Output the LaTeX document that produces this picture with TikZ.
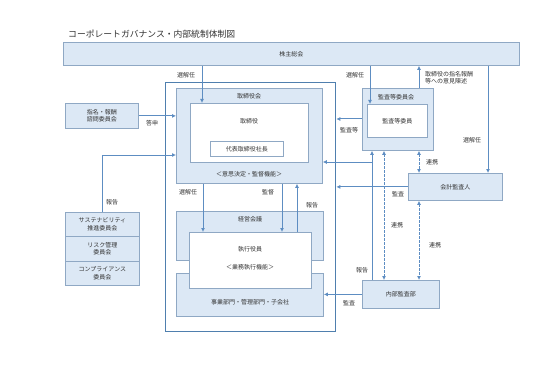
\documentclass[tikz,border=0pt]{standalone}
\usepackage{fontspec}
\setmainfont{Noto Sans CJK JP}
\usetikzlibrary{arrows.meta,calc}
\definecolor{fillb}{HTML}{DCE8F5}
\definecolor{edgeb}{HTML}{8FA8C4}
\definecolor{arrb}{HTML}{5D8DC2}
\definecolor{outerb}{HTML}{4F7FAE}
\definecolor{txt}{HTML}{333333}
\begin{document}
\begin{tikzpicture}[x=1pt,y=-1pt, font=\fontsize{6}{7.5}\selectfont, text=txt,
 bluebox/.style={draw=edgeb, fill=fillb, line width=0.8pt, inner sep=0pt, anchor=north west, align=center},
 whitebox/.style={draw=edgeb, fill=white, line width=0.8pt, inner sep=0pt, anchor=north west, align=center},
 arr/.style={draw=arrb, line width=1pt, -{Latex[length=4pt,width=4pt]}},
 dbl/.style={draw=arrb, line width=1pt, dash pattern=on 2.5pt off 1.5pt, {Latex[length=4pt,width=4pt]}-{Latex[length=4pt,width=4pt]}},
 lbl/.style={inner sep=0pt}]
\useasboundingbox[fill=white] (0,0) rectangle (537,366);
\node[lbl, anchor=west, font=\fontsize{8.8}{10}\selectfont] (title) at (68,34) {コーポレートガバナンス・内部統制体制図};
% boxes
\node[bluebox, minimum width=456pt, minimum height=23pt] (kabu) at (63,42) {株主総会};
\node[draw=outerb, line width=1.3pt, inner sep=0pt, anchor=north west, minimum width=170pt, minimum height=249pt] (outer) at (165,82) {};
\node[bluebox, minimum width=146pt, minimum height=95pt] (torikai) at (176,88) {};
\node[whitebox, minimum width=118pt, minimum height=59pt] (tori) at (190,103) {};
\node[whitebox, minimum width=73pt, minimum height=15pt] (daihyo) at (210,141) {代表取締役社長};
\node[bluebox, minimum width=73pt, minimum height=25pt] (shimei) at (65,103) {指名・報酬\\諮問委員会};
\node[bluebox, minimum width=74pt, minimum height=24pt] (sus) at (65,212) {サステナビリティ\\推進委員会};
\node[bluebox, minimum width=74pt, minimum height=25pt] (risk) at (65,236) {リスク管理\\委員会};
\node[bluebox, minimum width=74pt, minimum height=24pt] (comp) at (65,261) {コンプライアンス\\委員会};
\node[bluebox, minimum width=147pt, minimum height=49pt] (keiei) at (176,211) {};
\node[bluebox, minimum width=147pt, minimum height=43pt] (jigyo) at (176,273) {};
\node[whitebox, minimum width=122pt, minimum height=56pt] (shikko) at (189,232) {};
\node[bluebox, minimum width=71pt, minimum height=62pt] (kansa) at (362,88) {};
\node[whitebox, minimum width=60pt, minimum height=33pt] (kansaw) at (367,104) {監査等委員};
\node[bluebox, minimum width=94pt, minimum height=27pt] (kaikei) at (408,173) {会計監査人};
\node[bluebox, minimum width=77pt, minimum height=28pt] (naibu) at (362,280) {内部監査部};
% texts inside boxes
\node[lbl] (t1) at (249,96) {取締役会};
\node[lbl] (t2) at (249,121) {取締役};
\node[lbl] (t3) at (249,174) {＜意思決定・監督機能＞};
\node[lbl] (t4) at (250,219) {経営会議};
\node[lbl] (t5) at (250,249) {執行役員};
\node[lbl] (t6) at (250,267) {＜業務執行機能＞};
\node[lbl] (t7) at (250,302) {事業部門・管理部門・子会社};
\node[lbl] (t8) at (396,97) {監査等委員会};
% connectors
\coordinate (br) at (372,162);
\draw[arr] (202,0 |- kabu.south) -- (202,0 |- tori.north);
\draw[arr] (shimei.east) -- (shimei.east -| torikai.west);
\draw[arr] (102,0 |- sus.north) |- (torikai.west |- 0,155);
\draw[arr] (203,0 |- torikai.south) -- (203,0 |- shikko.north);
\draw[arr] (282,0 |- torikai.south) -- (282,0 |- shikko.north);
\draw[arr] (297,0 |- shikko.north) -- (297,0 |- torikai.south);
\draw[arr] (370,0 |- kabu.south) -- (370,0 |- kansaw.north);
\draw[arr] (419,0 |- kansa.north) -- (419,0 |- kabu.south);
\draw[arr] (488,0 |- kabu.south) -- (488,0 |- kaikei.north);
\draw[arr] (kansa.west |- 0,119) -- (outer.east |- 0,119);
\draw[dbl] (419,0 |- kansa.south) -- (419,0 |- kaikei.north);
\draw[arr] (kaikei.west) -- (kaikei.west -| outer.east);
\draw[dbl] (384,0 |- kansa.south) -- (384,0 |- naibu.north);
\draw[dbl] (419,0 |- kaikei.south) -- (419,0 |- naibu.north);
\draw[arr] (372,0 |- naibu.north) -- (372,0 |- kansa.south);
\draw[arr] (br) -- (br -| torikai.east);
\draw[arr] (naibu.west) -- (naibu.west -| jigyo.east);
% labels
\node[lbl] (l1) at (186,75) {選解任};
\node[lbl] (l2) at (152,123) {答申};
\node[lbl] (l3) at (112,202) {報告};
\node[lbl] (l4) at (188,192) {選解任};
\node[lbl] (l5) at (268,192) {監督};
\node[lbl] (l6) at (312,205) {報告};
\node[lbl] (l7) at (355,75) {選解任};
\node[lbl, anchor=north west, align=left] (l8) at (425,71) {取締役の指名報酬\\等への意見陳述};
\node[lbl] (l9) at (472,140) {選解任};
\node[lbl] (l10) at (349,130) {監査等};
\node[lbl] (l11) at (398,194) {監査};
\node[lbl] (l12) at (432,162) {連携};
\node[lbl] (l13) at (397,225) {連携};
\node[lbl] (l14) at (435,245) {連携};
\node[lbl] (l15) at (362,270) {報告};
\node[lbl] (l16) at (349,303) {監査};
\end{tikzpicture}
\end{document}
